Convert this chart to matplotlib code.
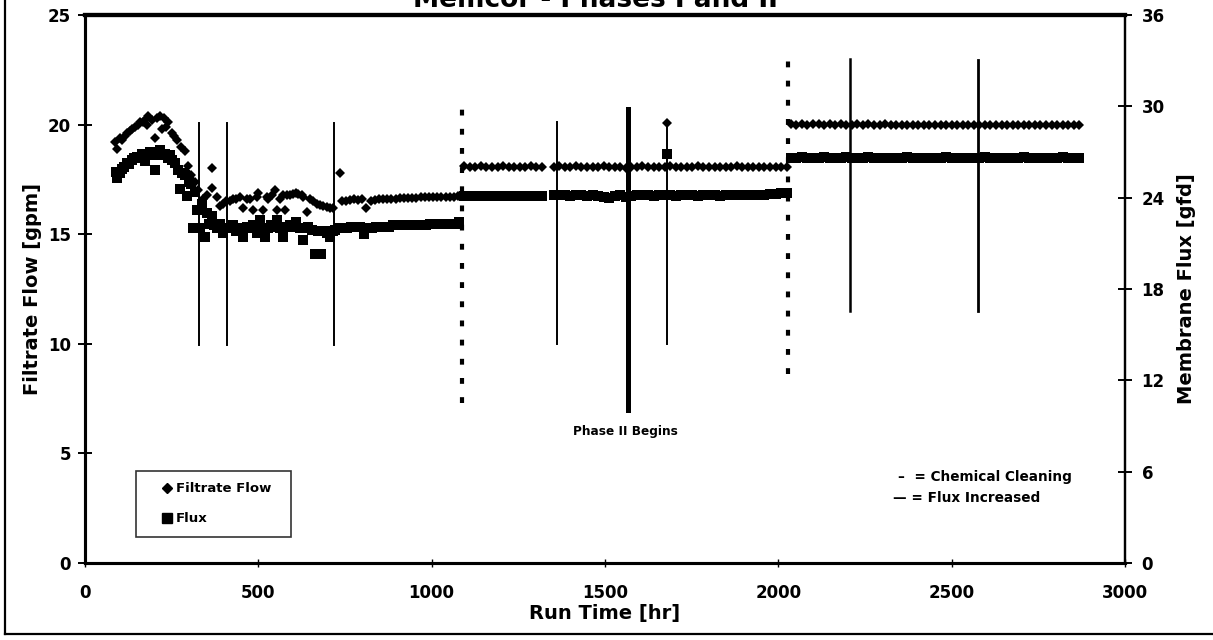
import numpy as np
import matplotlib
matplotlib.use("Agg")
import matplotlib.pyplot as plt
from matplotlib.lines import Line2D

plt.rcParams['font.family'] = ['DejaVu Sans']
plt.rcParams['font.weight'] = 'bold'

# Phase I readings (run time hr, filtrate flow gpm)
p1_flow_hr = [86, 93, 100, 106, 115, 122, 130, 137, 144, 152, 159, 166, 173, 180, 183,
              192, 202, 209, 216, 222, 228, 234, 240, 250, 257, 264, 276, 288, 296, 307,
              317, 327, 341, 352, 365, 366, 380, 389, 399, 408, 418, 428, 437, 447, 457,
              466, 476, 485, 495, 500, 514, 524, 529, 538, 548, 553, 562, 572, 577, 582,
              591, 601, 610, 615, 625, 630, 639, 649, 659, 668, 678, 687, 697, 707, 716,
              735]
p1_flow = [19.2, 18.9, 19.4, 19.3, 19.5, 19.6, 19.7, 19.8, 19.9, 20.0, 20.1, 20.1, 20.2, 20.0, 20.4,
           20.2, 19.4, 20.3, 20.4, 19.8, 20.3, 19.9, 20.1, 19.6, 19.5, 19.3, 19.0, 18.8, 18.1, 17.7,
           17.4, 17.0, 16.6, 16.8, 18.0, 17.1, 16.7, 16.3, 16.4, 16.5, 16.5, 16.6, 16.6, 16.7, 16.2,
           16.6, 16.6, 16.1, 16.7, 16.9, 16.1, 16.7, 16.6, 16.8, 17.0, 16.1, 16.6, 16.8, 16.1, 16.8,
           16.8, 16.85, 16.9, 16.85, 16.8, 16.7, 16.0, 16.6, 16.5, 16.4, 16.35, 16.3, 16.25, 16.2, 16.2,
           17.8]
# steady end of phase I, logged every 12 hr from 740 hr
p1_flow_tail_start = 740
p1_flow_tail = [16.5, 16.5, 16.55, 16.6, 16.55, 16.6, 16.2, 16.5, 16.55, 16.6, 16.6, 16.6, 16.6,
                16.6, 16.65, 16.65, 16.65, 16.65, 16.65, 16.7, 16.7, 16.7, 16.7, 16.7, 16.7,
                16.7, 16.7, 16.7, 16.75]

# Phase I membrane flux (hr, gfd)
p1_flux_hr = [88, 93, 100, 106, 113, 120, 128, 135, 142, 149, 157, 164, 173, 180, 188,
              195, 202, 209, 216, 224, 231, 238, 245, 252, 260, 269, 274, 281, 288, 293,
              300, 307, 312, 317, 322, 332, 338, 346, 351, 358, 365, 372, 380, 390, 399,
              408, 418, 428, 437, 447, 457, 466, 476, 486, 495, 505, 512, 519, 528, 536,
              543, 553, 562, 572, 581, 591, 600, 610, 620, 630, 637, 644, 654, 663, 672,
              682, 687, 697, 707, 714, 721]
p1_flux = [25.7, 25.3, 25.6, 25.9, 26.0, 26.3, 26.2, 26.5, 26.6, 26.7, 26.6, 26.9, 26.4, 26.9, 27.0,
           26.8, 25.8, 26.9, 27.1, 26.8, 26.9, 26.6, 26.8, 26.5, 26.3, 25.8, 24.6, 25.6, 25.5, 24.1,
           25.0, 24.9, 22.0, 24.4, 23.2, 22.0, 23.6, 21.4, 23.0, 22.3, 22.8, 22.2, 22.0, 22.3, 21.7,
           22.0, 22.0, 22.2, 21.8, 22.0, 21.4, 22.1, 22.0, 22.2, 21.7, 22.5, 22.0, 21.4, 22.0, 22.2,
           22.1, 22.5, 22.0, 21.4, 22.1, 22.2, 22.1, 22.4, 22.0, 21.2, 22.0, 22.1, 21.9, 20.3, 21.8,
           20.3, 21.8, 21.7, 21.4, 21.8, 21.9]
p1_flux_tail_start = 732
p1_flux_tail = [22.0, 22.0, 22.0, 22.1, 22.1, 22.1, 21.6, 22.0, 22.0, 22.1, 22.1, 22.1, 22.1,
                22.2, 22.2, 22.2, 22.2, 22.2, 22.2, 22.2, 22.2, 22.2, 22.3, 22.3, 22.3, 22.3,
                22.3, 22.3, 22.3, 22.4]

# Phase II, logged every 16 hr (short break near 1330 hr)
log_step = 16
p2a_start = 1094
p2a_flow = [18.10, 18.08, 18.08, 18.10, 18.08, 18.06, 18.08, 18.10, 18.08, 18.08, 18.06, 18.08,
            18.10, 18.08, 18.06]
p2a_flux = [24.12, 24.10, 24.14, 24.12, 24.10, 24.12, 24.14, 24.12, 24.10, 24.12, 24.14, 24.12,
            24.10, 24.12, 24.12]
p2b_start = 1352
p2b_flow = [18.08, 18.10, 18.08, 18.08, 18.10, 18.08, 18.06, 18.08, 18.08, 18.10, 18.08, 18.08,
            18.06, 18.02, 18.06, 18.08, 18.10, 18.08, 18.08, 18.06, 18.08, 18.10, 18.08, 18.06,
            18.08, 18.08, 18.10, 18.08, 18.06, 18.08, 18.08, 18.06, 18.08, 18.10, 18.08, 18.06,
            18.08, 18.08, 18.06, 18.06, 18.08, 18.06, 18.08]
p2b_flux = [24.15, 24.18, 24.15, 24.12, 24.18, 24.15, 24.12, 24.15, 24.12, 24.05, 23.95, 24.10,
            24.15, 24.05, 24.10, 24.15, 24.18, 24.15, 24.12, 24.15, 24.18, 24.15, 24.12, 24.15,
            24.18, 24.15, 24.12, 24.15, 24.18, 24.15, 24.12, 24.15, 24.18, 24.15, 24.15, 24.18,
            24.15, 24.18, 24.20, 24.22, 24.25, 24.28, 24.30]
# single off-trend reading at 1678 hr
spike_hr = [1678]
spike_flow = [20.07]
spike_flux = [26.9]

# Phase III
p3_start = 2036
p3_flow = [20.02, 20.00, 20.02, 20.00, 20.02, 20.02, 20.00, 20.02, 20.00, 20.02, 20.00, 20.00,
           20.02, 20.00, 20.02, 20.00, 20.00, 20.02, 20.00, 20.00, 19.98, 20.00, 20.00, 19.98,
           20.00, 20.00, 19.98, 20.00, 19.98, 20.00, 20.00, 19.98, 20.00, 19.98, 19.98, 20.00,
           19.98, 19.98, 20.00, 19.98, 19.98, 19.98, 20.00, 19.98, 19.98, 19.98, 19.96, 19.98,
           19.98, 19.96, 19.98, 19.98, 19.96]
p3_flux = [26.62, 26.60, 26.64, 26.62, 26.60, 26.62, 26.64, 26.62, 26.60, 26.62, 26.64, 26.62,
           26.60, 26.62, 26.64, 26.62, 26.60, 26.62, 26.62, 26.60, 26.62, 26.64, 26.62, 26.60,
           26.62, 26.62, 26.60, 26.62, 26.64, 26.62, 26.60, 26.62, 26.62, 26.60, 26.62, 26.64,
           26.62, 26.60, 26.62, 26.62, 26.60, 26.62, 26.64, 26.62, 26.60, 26.62, 26.62, 26.60,
           26.62, 26.64, 26.62, 26.60, 26.62]

# chemical cleanings: (hr, low gpm, high gpm, width)
cleanings = [(330, 9.95, 20.07, 1.4), (409, 9.95, 20.07, 1.4), (718, 9.95, 20.07, 1.4),
             (1362, 10.0, 20.13, 1.4), (1678, 10.0, 20.07, 1.4),
             (2207, 11.5, 23.0, 1.8), (2577, 11.5, 22.95, 2.0)]
# flux increases (dotted)
flux_steps = [(1087, 7.3, 20.9), (2028, 8.6, 23.1)]
phase2_hr, phase2_lo, phase2_hi = 1567, 7.0, 20.7


def logged(start, values, step):
    return start + step * np.arange(len(values))


flow_hr = np.concatenate([p1_flow_hr, logged(p1_flow_tail_start, p1_flow_tail, 12),
                          logged(p2a_start, p2a_flow, log_step), logged(p2b_start, p2b_flow, log_step),
                          spike_hr, logged(p3_start, p3_flow, log_step)])
flow = np.concatenate([p1_flow, p1_flow_tail, p2a_flow, p2b_flow, spike_flow, p3_flow])
flux_hr = np.concatenate([p1_flux_hr, logged(p1_flux_tail_start, p1_flux_tail, 12),
                          logged(p2a_start, p2a_flux, log_step), logged(p2b_start, p2b_flux, log_step),
                          spike_hr, logged(p3_start, p3_flux, log_step)])
flux = np.concatenate([p1_flux, p1_flux_tail, p2a_flux, p2b_flux, spike_flux, p3_flux])

W, H = 1213, 640
fig = plt.figure(figsize=(W / 100, H / 100), dpi=100)
ax = fig.add_axes([85 / W, 77 / H, 1040 / W, 548 / H])
ax2 = ax.twinx()

for x, lo, hi, lw in cleanings:
    ax.plot([x, x], [lo, hi], color='black', lw=lw, zorder=2)
ax.plot([phase2_hr, phase2_hr], [phase2_lo, phase2_hi], color='black', lw=3.6, zorder=2)
for x, lo, hi in flux_steps:
    ax.plot([x, x], [lo, hi], color='black', lw=3, dashes=(1.4, 3.2),
            dash_capstyle='butt', zorder=2)

ax.plot(flow_hr, flow, linestyle='none', marker='D', ms=5.5, color='black', mec='black',
        mew=0, zorder=4)
ax2.plot(flux_hr, flux, linestyle='none', marker='s', ms=7, color='black', mec='black',
         mew=0, zorder=4)

ax.set_xlim(0, 3000)
ax.set_ylim(0, 25)
ax2.set_ylim(0, 36)
ax.set_xticks(np.arange(0, 3001, 500))
ax.set_yticks(np.arange(0, 26, 5))
ax2.set_yticks(np.arange(0, 37, 6))

for a in (ax, ax2):
    for s in a.spines.values():
        s.set_color('black')
    a.spines['left'].set_linewidth(2.2)
    a.spines['bottom'].set_linewidth(2.2)
    a.spines['right'].set_linewidth(1.6)
    a.spines['top'].set_linewidth(3.0)

ax.tick_params(axis='y', direction='inout', length=10, width=1.4, labelsize=12, pad=5)
ax2.tick_params(axis='y', direction='inout', length=10, width=1.4, labelsize=12, pad=7)
ax.tick_params(axis='x', direction='inout', length=6, width=1.0, labelsize=12, pad=12)

ax.set_xlabel('Run Time [hr]', fontsize=14, fontweight='bold', va='center')
ax.xaxis.set_label_coords(0.5, -0.092)
ax.set_ylabel('Filtrate Flow [gpm]', fontsize=14, fontweight='bold')
ax.yaxis.set_label_coords(-0.041, 0.5)
ax2.set_ylabel('Membrane Flux [gfd]', fontsize=14, fontweight='bold')
ax2.yaxis.set_label_coords(1.050, 0.5)

fig.text(595 / W, 1 - 7 / H, 'Memcor - Phases I and II', ha='center', va='baseline',
         fontsize=19, fontweight='bold')

ax.text(1560, 6.0, 'Phase II Begins', ha='center', va='center', fontsize=8.7)
ax.text(2345, 3.92, '–  = Chemical Cleaning', ha='left', va='center', fontsize=9.8)
ax.text(2330, 2.97, '— = Flux Increased', ha='left', va='center', fontsize=9.8)

h1 = Line2D([], [], linestyle='none', marker='D', ms=5, color='black')
h2 = Line2D([], [], linestyle='none', marker='s', ms=6.5, color='black')
leg = ax2.legend([h1, h2], ['Filtrate Flow', 'Flux'], loc='upper left', mode='expand',
                 bbox_to_anchor=(0.049, 0.05, 0.149, 0.118), fontsize=9.5, frameon=True,
                 fancybox=False, handlelength=3.0, handletextpad=-0.85, labelspacing=1.3,
                 borderpad=0.86, borderaxespad=0)
leg.get_frame().set_edgecolor('black')
leg.get_frame().set_linewidth(1.2)

# page frame
fig.add_artist(Line2D([5 / W, 5 / W], [6 / H, 1], color='black', lw=1.6))
fig.add_artist(Line2D([5 / W, 1], [6 / H, 6 / H], color='black', lw=1.6))

fig.savefig('out.png', dpi=100, facecolor='white')
